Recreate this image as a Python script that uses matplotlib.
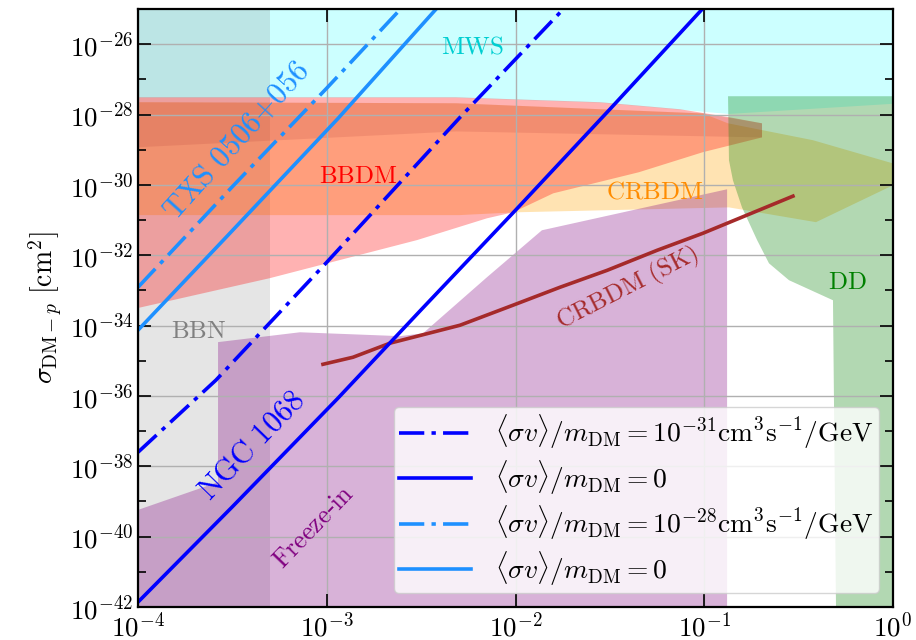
"""DM-proton cross section limits: NGC 1068 / TXS 0506+056 vs. other constraints."""
import numpy as np
import matplotlib
matplotlib.use("Agg")
import matplotlib.pyplot as plt
from matplotlib.ticker import FixedLocator, FuncFormatter, NullLocator, NullFormatter

plt.rcParams["mathtext.fontset"] = "cm"

# ---- data (log10 of m_DM [GeV] and sigma [cm^2]) ----
# MWS: lower edge, filled up to the top of the frame
mws_logm = [-4.0, -2.315, -1.552, -1.128, -0.874, 0.0]
mws_logsig = [-27.51, -27.51, -27.65, -27.85, -27.97, -27.68]

# BBN: mass window
bbn_m = [1e-4, 5e-4]

# BBDM (pink) polygon
bbdm_logm = [-4.0, -2.315, -1.552, -1.128, -0.864, -0.694, -0.694, -1.007, -1.346,
             -1.80, -2.013, -2.151, -2.522, -3.142, -3.30, -4.0]
bbdm_logsig = [-27.51, -27.51, -27.65, -27.85, -28.08, -28.25, -28.65, -29.07, -29.64,
               -30.24, -30.78, -30.95, -31.57, -32.43, -32.65, -33.5]

# second BBDM band (darker)
bbdm2_logm = [-4.0, -2.315, -1.007, -0.694, -0.694, -2.315, -4.0]
bbdm2_logsig = [-27.65, -27.68, -27.97, -28.25, -28.65, -28.48, -28.93]

# CRBDM (orange) polygon
crbdm_logm = [-4.0, -2.315, -1.007, -0.874, -0.424, 0.0,
              0.0, -0.408, -0.869, -2.0, -2.3, -4.0]
crbdm_logsig = [-27.65, -27.68, -27.97, -28.25, -28.73, -29.39,
                -30.01, -31.06, -30.64, -30.78, -30.86, -30.86]

# Freeze-in (purple) polygon
fi_logm = [-4.0, -4.0, -3.576, -3.576, -3.142, -2.612, -2.49, -2.151, -1.860, -0.879, -0.879]
fi_logsig = [-42.0, -39.24, -38.45, -34.47, -34.19, -34.30, -34.22, -32.625, -31.29, -30.125, -42.0]

# DD (green) polygon
dd_logm = [-0.874, 0.0, 0.0, -0.302, -0.318, -0.551, -0.657, -0.72, -0.80, -0.848, -0.869]
dd_logsig = [-27.48, -27.48, -42.0, -42.0, -33.28, -32.71, -32.23, -31.57, -30.64, -29.87, -29.30]

# CRBDM (SK) line
sk_logm = [-3.02, -2.861, -2.665, -2.294, -2.013, -1.764, -1.515, -1.250, -1.007, -0.530]
sk_logsig = [-35.10, -34.90, -34.50, -33.99, -33.42, -32.91, -32.43, -31.86, -31.375, -30.32]

# NGC 1068 limits
ngc_ann_logm = [-4.0, -3.587, -3.0, -2.294, -1.748, -1.6]
ngc_ann_logsig = [-37.6, -35.55, -32.2, -28.08, -25.01, -24.2]
ngc_0_logm = [-4.0, -3.5, -2.94, -2.5, -2.0, -1.5, -1.017, -0.9]
ngc_0_logsig = [-41.86, -39.15, -36.06, -33.55, -30.72, -27.85, -25.04, -24.37]

# TXS 0506+056 limits
txs_ann_logm = [-4.0, -3.5, -3.0, -2.6]
txs_ann_logsig = [-32.91, -30.05, -27.25, -24.95]
txs_0_logm = [-4.0, -3.523, -2.94, -2.427, -2.3]
txs_0_logsig = [-34.13, -31.43, -28.11, -25.04, -24.3]

legend_labels = [
    r"$\langle\sigma v\rangle/m_{\rm DM}=10^{-31}{\rm cm^3s^{-1}/GeV}$",
    r"$\langle\sigma v\rangle/m_{\rm DM}=0$",
    r"$\langle\sigma v\rangle/m_{\rm DM}=10^{-28}{\rm cm^3s^{-1}/GeV}$",
    r"$\langle\sigma v\rangle/m_{\rm DM}=0$",
]


def p(a):
    return 10.0 ** np.asarray(a)


fig = plt.figure(figsize=(9.16, 6.4), dpi=100)
ax = fig.add_axes([138 / 916, 33 / 640, 755 / 916, 598 / 640])
ax.set_xscale("log"); ax.set_yscale("log")
ax.set_xlim(1e-4, 1); ax.set_ylim(1e-42, 1e-25)

# regions
ax.fill_between(p(mws_logm), p(mws_logsig), 1e-25, color="cyan", alpha=0.2, lw=0)
ax.axvspan(bbn_m[0], bbn_m[1], color="gray", alpha=0.2, lw=0)
ax.fill(p(crbdm_logm), p(crbdm_logsig), color="orange", alpha=0.3, lw=0)
ax.fill(p(bbdm_logm), p(bbdm_logsig), color="red", alpha=0.3, lw=0)
ax.fill(p(bbdm2_logm), p(bbdm2_logsig), color="brown", alpha=0.14, lw=0)
ax.fill(p(fi_logm), p(fi_logsig), color="purple", alpha=0.3, lw=0)
ax.fill(p(dd_logm), p(dd_logsig), color="green", alpha=0.3, lw=0)

# lines
dd = (7, 2.0, 1.2, 2.0)
ax.plot(p(sk_logm), p(sk_logsig), color="brown", lw=2.6)
ax.plot(p(ngc_ann_logm), p(ngc_ann_logsig), color="blue", ls=(0, dd), lw=2.6, label=legend_labels[0])
ax.plot(p(ngc_0_logm), p(ngc_0_logsig), color="blue", ls="-", lw=2.6, label=legend_labels[1])
ax.plot(p(txs_ann_logm), p(txs_ann_logsig), color="dodgerblue", ls=(0, dd), lw=2.6, label=legend_labels[2])
ax.plot(p(txs_0_logm), p(txs_0_logsig), color="dodgerblue", ls="-", lw=2.6, label=legend_labels[3])


# labels on the plot
def lab(lm, ls, s, c, fs=18, rot=0):
    ax.text(10 ** lm, 10 ** ls, s, color=c, fontsize=fs, rotation=rot,
            ha="center", va="center", rotation_mode="anchor")


lab(-3.475, -28.76, r"$\mathrm{TXS\ 0506{+}056}$", "dodgerblue", 22, 48)
lab(-3.396, -37.40, r"$\mathrm{NGC\ 1068}$", "blue", 22, 46)
lab(-3.068, -39.73, r"$\mathrm{Freeze}$-$\mathrm{in}$", "purple", 18.5, 46)
lab(-1.404, -32.94, r"$\mathrm{CRBDM\ (SK)}$", "brown", 18, 27)
lab(-3.677, -34.16, r"$\mathrm{BBN}$", "gray", 18)
lab(-2.23, -26.06, r"$\mathrm{MWS}$", "darkturquoise", 18)
lab(-2.834, -29.76, r"$\mathrm{BBDM}$", "red", 18)
lab(-1.261, -30.18, r"$\mathrm{CRBDM}$", "darkorange", 18)
lab(-0.244, -32.77, r"$\mathrm{DD}$", "green", 18)

# axes styling
ax.xaxis.set_major_locator(FixedLocator([1e-4, 1e-3, 1e-2, 1e-1, 1]))
ax.xaxis.set_minor_locator(NullLocator())
ax.yaxis.set_major_locator(FixedLocator([10.0 ** e for e in range(-42, -24, 2)]))
ax.yaxis.set_minor_locator(FixedLocator([10.0 ** e for e in range(-41, -24, 2)]))
fmt = FuncFormatter(lambda v, _: rf"$10^{{{int(round(np.log10(v)))}}}$")
ax.xaxis.set_major_formatter(fmt); ax.yaxis.set_major_formatter(fmt)
ax.yaxis.set_minor_formatter(NullFormatter())
ax.tick_params(which="both", direction="in", top=True, right=True, labelsize=19.5)
ax.tick_params(which="major", length=9.5, width=1.2)
ax.tick_params(which="minor", length=6, width=1.2)
for s in ax.spines.values():
    s.set_linewidth(1.6)
ax.grid(True, which="major", color="#b0b0b0", lw=1.0)
ax.set_ylabel(r"$\sigma_{{\rm DM}-p}\ [{\rm cm}^2]$", fontsize=20)

ax.legend(loc="lower right", fontsize=19.8, framealpha=0.8, handlelength=2.6,
          handletextpad=0.9, labelspacing=0.25, borderpad=0.2)

fig.savefig("out.png", dpi=100)
